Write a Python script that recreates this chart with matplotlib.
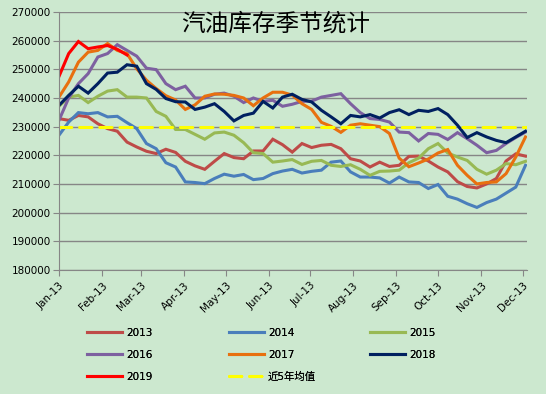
import numpy as np
import pandas as pd
import matplotlib
matplotlib.use("Agg")
import matplotlib.pyplot as plt
import matplotlib.dates as mdates

plt.rcParams['font.family'] = ['DejaVu Sans', 'Noto Sans CJK SC']

# weekly points, plotted on a 2013 calendar axis
WOCHEN = pd.date_range("2013-01-01", periods=49, freq="7D")

Y2013 = [232800, 232200, 233900, 233400, 231000, 229300, 228400, 224600, 222900, 221400,
         220600, 222100, 221000, 217900, 216300, 215100, 217900, 220600, 219200, 218800,
         221500, 221500, 225600, 223700, 221100, 224100, 222700, 223500, 223800, 222300,
         218800, 218000, 215900, 217600, 216100, 216500, 219600, 219700, 218000, 215900,
         214200, 210800, 209100, 208600, 210000, 211900, 218000, 220500, 219700]
Y2014 = [227000, 231600, 234900, 234500, 234900, 233400, 233600, 231400, 229300, 224100,
         222300, 217400, 215900, 210700, 210500, 210100, 211900, 213400, 212700, 213300,
         211500, 211900, 213600, 214500, 215100, 213800, 214400, 214800, 217600, 218000,
         214200, 212400, 212400, 212100, 210300, 212400, 210700, 210500, 208400, 209800,
         205700, 204700, 203100, 201800, 203500, 204700, 206800, 208900, 216500]
Y2015 = [237100, 240300, 240900, 238400, 240600, 242400, 242900, 240300, 240300, 240000,
         235300, 233600, 229000, 229000, 227300, 225600, 227800, 228100, 227000, 224400,
         220900, 220600, 217600, 218000, 218500, 216800, 217900, 218200, 216500, 216100,
         216700, 215100, 213000, 214400, 214500, 214800, 217400, 219000, 222300, 224100,
         220800, 219400, 218200, 215100, 213400, 214800, 217100, 216700, 217900]
Y2016 = [232200, 240000, 245000, 248500, 254300, 255500, 258600, 256600, 254600, 250400,
         249900, 245000, 242900, 244100, 240000, 240000, 241300, 241700, 240600, 238400,
         240000, 238800, 239200, 237100, 237800, 238800, 238900, 240300, 240900, 241500,
         238000, 234900, 232800, 232500, 231600, 228100, 227900, 225000, 227600, 227300,
         225500, 227900, 225800, 223500, 220900, 221700, 224100, 226200, 228100]
Y2017 = [240300, 245600, 252500, 256000, 256600, 259000, 256600, 255500, 250200, 246200,
         243300, 240800, 239300, 236000, 237600, 240600, 241400, 241300, 240900, 240000,
         237300, 240000, 242000, 242000, 241000, 238000, 236000, 231500, 230100, 228000,
         230500, 231000, 230500, 230000, 227600, 219000, 216000, 217300, 218700, 220800,
         222000, 216500, 213000, 210000, 210500, 210700, 213600, 219400, 226400]
Y2018 = [237400, 240900, 244100, 241700, 245000, 248700, 249000, 251600, 251100, 245000,
         243000, 239800, 238700, 238600, 236000, 236800, 238000, 235300, 232000, 233900,
         234700, 238800, 236500, 240300, 241300, 239500, 238600, 235700, 233400, 231000,
         233900, 233400, 234200, 233000, 234900, 235900, 234200, 235700, 235300, 236300,
         234200, 230500, 226200, 227900, 226400, 225200, 224400, 226400, 228400]
Y2019 = [247500, 255500, 259700, 257200, 257800, 258300, 257000, 255000]
MITTEL_5J = 230000

REIHEN = [("2013", Y2013, "#BE4B48"), ("2014", Y2014, "#4A7EBB"), ("2015", Y2015, "#98B954"),
          ("2016", Y2016, "#7D60A0"), ("2017", Y2017, "#E8700F"), ("2018", Y2018, "#002060"),
          ("2019", Y2019, "#FF0000")]

HINTERGRUND = "#CCE8CF"
GITTER = "#868686"

fig = plt.figure(figsize=(5.46, 3.94), dpi=100, facecolor=HINTERGRUND)
ax = fig.add_axes([0.108, 0.315, 0.857, 0.6545])
ax.set_facecolor(HINTERGRUND)

linien = {}
for name, werte, farbe in REIHEN:
    l, = ax.plot(WOCHEN[:len(werte)], werte, color=farbe, lw=2.2, label=name,
                 solid_joinstyle="miter")
    linien[name] = l
l = ax.axhline(MITTEL_5J, color="#FFFF00", lw=2.2, dashes=(4, 2.6),
               dash_capstyle="round", label="近5年均值")
linien["近5年均值"] = l

ax.set_ylim(180000, 270000)
ax.set_yticks(np.arange(180000, 270001, 10000))
ax.set_xlim(pd.Timestamp("2013-01-01"), pd.Timestamp("2013-12-04"))
ax.xaxis.set_major_locator(mdates.MonthLocator())
ax.xaxis.set_major_formatter(mdates.DateFormatter("%b-%y"))

ax.grid(axis="y", color=GITTER, lw=1)
ax.set_axisbelow(True)
for s in ["top", "right"]:
    ax.spines[s].set_visible(False)
for s in ["left", "bottom"]:
    ax.spines[s].set_color(GITTER)
ax.tick_params(axis="both", color=GITTER, length=4, labelsize=7.5, labelcolor="black")
ax.tick_params(axis="y", pad=2)
for t in ax.get_xticklabels():
    t.set_rotation(45)
    t.set_ha("right")
    t.set_rotation_mode("anchor")

fig.text(0.505, 0.94, "汽油库存季节统计", fontsize=17, family="Noto Sans CJK SC",
         ha="center", va="center")

# legend in three columns, like Excel
spalten = [["2013", "2016", "2019"], ["2014", "2017", "近5年均值"], ["2015", "2018"]]
for x0, namen in zip([87, 229, 370], spalten):
    leg = fig.legend([linien[n] for n in namen], namen, loc="upper left",
                     bbox_to_anchor=(x0 / 546, 1 - 328 / 394), frameon=False,
                     fontsize=7.5, handlelength=3.4, handletextpad=0.35,
                     labelspacing=1.15, borderpad=0, borderaxespad=0)
    fig.add_artist(leg)

plt.savefig("out.png", dpi=100, facecolor=HINTERGRUND)
